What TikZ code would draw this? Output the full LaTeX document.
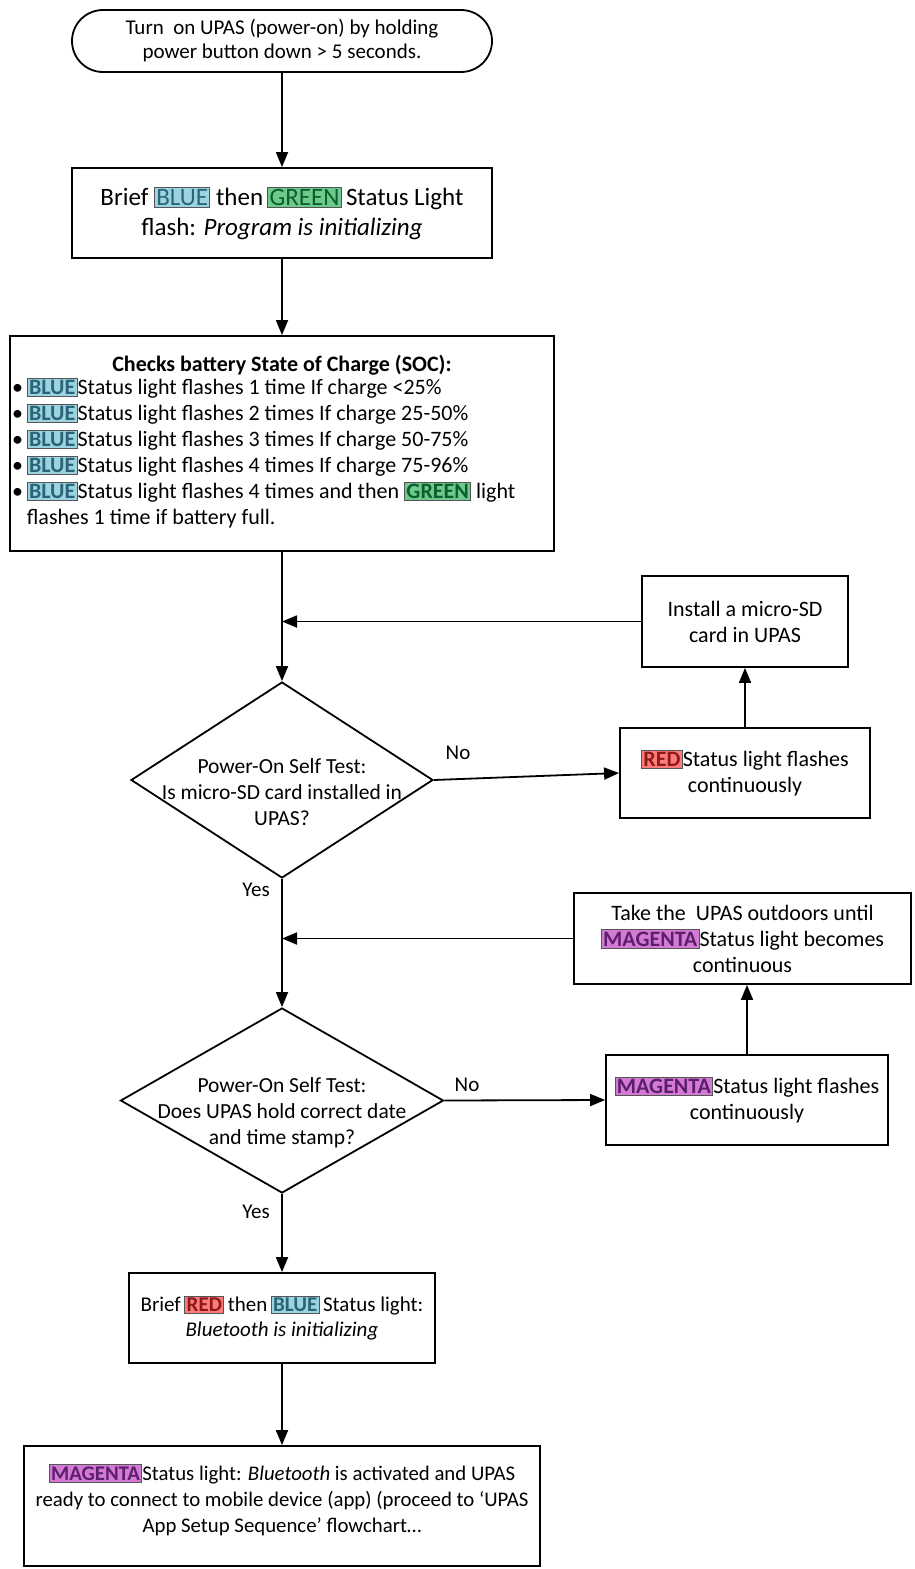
\documentclass[tikz,border=0pt]{standalone}
\usepackage{fontspec}
\setmainfont{Carlito}
\usetikzlibrary{shapes.geometric,arrows.meta}
\definecolor{bluefill}{HTML}{9DD3E0}
\definecolor{bluetext}{HTML}{2A6478}
\definecolor{greenfill}{HTML}{6CCB8A}
\definecolor{greentext}{HTML}{0E5C30}
\definecolor{redfill}{HTML}{FF7B7B}
\definecolor{redtext}{HTML}{8B1A1A}
\definecolor{magfill}{HTML}{D47AD4}
\definecolor{magtext}{HTML}{5C1F6B}
\definecolor{tagframe}{HTML}{555555}
\newcommand{\colortag}[3]{{\setlength{\fboxsep}{1.3pt}\setlength{\fboxrule}{1pt}\fcolorbox{tagframe}{#1}{\textcolor{#2}{#3}}}}
\newcommand{\tBlue}{\colortag{bluefill}{bluetext}{\textbf{BLUE}}}
\newcommand{\tGreen}{\colortag{greenfill}{greentext}{\textbf{GREEN}}}
\newcommand{\tBlueP}{\colortag{bluefill}{bluetext}{BLUE}}
\newcommand{\tGreenP}{\colortag{greenfill}{greentext}{GREEN}}
\newcommand{\tRed}{\colortag{redfill}{redtext}{\textbf{RED}}}
\newcommand{\tMag}{\colortag{magfill}{magtext}{\textbf{MAGENTA}}}
\begin{document}
\begin{tikzpicture}[x=1pt,y=-1pt,
  flow/.style={draw, line width=1.8pt, rectangle, inner sep=0pt, align=center},
  decision/.style={diamond, draw, line width=1.8pt, inner sep=0pt},
  conn/.style={line width=1.8pt, -{Triangle[length=15pt,width=12pt]}},
  lbl/.style={font=\fontsize{21}{24}\selectfont, inner sep=0pt},
  txt/.style={font=\fontsize{22}{26}\selectfont},
  dtxt/.style={font=\fontsize{21.5}{26}\selectfont, align=center, inner sep=0pt}]
\useasboundingbox (0,0) rectangle (914,1569);

% main column
\node[flow, rounded corners=31pt, minimum width=420pt, minimum height=62pt,
      font=\fontsize{21}{24}\selectfont] (start) at (282,41)
  {Turn\ \ on UPAS (power-on) by holding\\power button down > 5 seconds.};

\node[flow, minimum width=420pt, minimum height=90pt,
      font=\fontsize{25}{30}\selectfont] (init) at (282,213)
  {Brief \tBlueP{} then\,\tGreenP{}\,Status Light\\flash: \textit{Program is initializing}};

\node[flow, minimum width=544pt, minimum height=215pt] (soc) at (282,443.5) {};
\node[font=\fontsize{22}{26}\selectfont\bfseries, inner sep=0pt] (soct) at (282,365)
  {Checks battery State of Charge (SOC):};
\node[txt, anchor=north west, align=left, inner sep=0pt] (socl) at (12,378)
  {\textbullet\,\tBlue Status light flashes 1 time If charge <25\%\\
   \textbullet\,\tBlue Status light flashes 2 times If charge 25-50\%\\
   \textbullet\,\tBlue Status light flashes 3 times If charge 50-75\%\\
   \textbullet\,\tBlue Status light flashes 4 times If charge 75-96\%\\
   \textbullet\,\tBlue Status light flashes 4 times and then \tGreen{} light\\
   \phantom{\textbullet\,}flashes 1 time if battery full.};

\node[decision, minimum width=302pt, minimum height=196pt] (d1) at (282,780) {};
\node[dtxt] (d1t) at (282,792)
  {Power-On Self Test:\\Is micro-SD card installed in\\UPAS?};

\node[decision, minimum width=323pt, minimum height=185pt] (d2) at (282,1100.5) {};
\node[dtxt] (d2t) at (282,1113)
  {Power-On Self Test:\\Does UPAS hold correct date\\and time stamp?};

\node[flow, minimum width=306pt, minimum height=90pt,
      font=\fontsize{21}{25}\selectfont] (bt) at (282,1318)
  {Brief\,\tRed{}\,then\,\tBlue{}\,Status light:\\\textit{Bluetooth is initializing}};

\node[flow, minimum width=516pt, minimum height=120pt] (ready) at (282,1506) {};
\node[font=\fontsize{20.8}{26}\selectfont, align=center, inner sep=0pt] (readyt) at (282,1500)
  {\tMag Status light: \textit{Bluetooth} is activated and UPAS\\
   ready to connect to mobile device (app) (proceed to ‘UPAS\\
   App Setup Sequence’ flowchart…};

% side column
\node[flow, txt, minimum width=206pt, minimum height=91pt] (install) at (745,621.5)
  {Install a micro-SD\\card in UPAS};
\node[flow, txt, minimum width=250pt, minimum height=90pt] (red) at (745,773)
  {\tRed Status light flashes\\continuously};
\node[flow, txt, minimum width=337pt, minimum height=91pt] (take) at (742.5,938.5)
  {Take the\ \ UPAS outdoors until\\\tMag Status light becomes\\continuous};
\node[flow, txt, minimum width=282pt, minimum height=90pt] (mag) at (747,1100)
  {\tMag Status light flashes\\continuously};

% labels
\node[lbl] (no1) at (458,753) {No};
\node[lbl] (yes1) at (256,890) {Yes};
\node[lbl] (no2) at (467,1085) {No};
\node[lbl] (yes2) at (256,1212) {Yes};

% connectors
\draw[conn] (start.south) -- (init.north);
\draw[conn] (init.south) -- (soc.north);
\draw[conn] (soc.south) -- (d1.north);
\draw[conn] (install.west) -- (install.west -| d1.north);
\draw[conn] (d1.east) -- (red.west);
\draw[conn] (red.north) -- (install.south);
\draw[conn] (d1.south) -- (d2.north);
\draw[conn] (take.west) -- (take.west -| d2.north);
\draw[conn] (d2.east) -- (mag.west);
\draw[conn] (mag.north) -- (mag.north |- take.south);
\draw[conn] (d2.south) -- (bt.north);
\draw[conn] (bt.south) -- (ready.north);
\end{tikzpicture}
\end{document}
